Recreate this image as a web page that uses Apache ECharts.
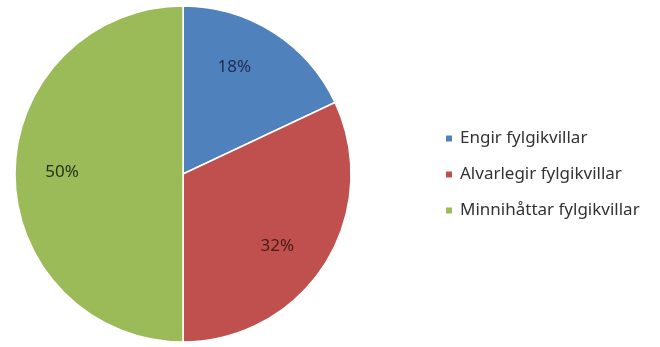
<!DOCTYPE html>
<html>
<head>
<meta charset="utf-8">
<script src="https://cdn.jsdelivr.net/npm/echarts@6/dist/echarts.min.js"></script>
<style>
  html, body { margin: 0; padding: 0; background: #fff; }
  #main { width: 660px; height: 347px; }
</style>
</head>
<body>
<div id="main"></div>
<script>
// flokkar og hlutföll
const categories = ['Engir fylgikvillar', 'Alvarlegir fylgikvillar', 'Minnihåttar fylgikvillar']
const values = [18, 32, 50]
const colors = ['#4f81bd', '#c0504d', '#9bbb59']
const labelColors = ['#1c2d4f', '#4a1a1a', '#26331a']
// Excel "best fit" færir merkin aðeins frá miðhorni sneiðar
const labelOffsets = [[-13, -6], [-7, 8], [-1, -2]]

const chart = echarts.init(document.getElementById('main'))

const pieData = categories.map((name, i) => ({
  name: name,
  value: values[i],
  itemStyle: { color: colors[i] }
}))

const labelData = categories.map((name, i) => ({
  name: name,
  value: values[i],
  label: { color: labelColors[i], offset: labelOffsets[i] }
}))

chart.setOption({
  animation: false,
  legend: {
    orient: 'vertical',
    left: 439,
    top: 125,
    itemWidth: 8,
    itemHeight: 8,
    itemGap: 19,
    icon: 'rect',
    textStyle: {
      fontFamily: 'Noto Sans',
      fontSize: 17,
      color: '#333',
      padding: [0, 0, 0, 2]
    },
    data: categories
  },
  series: [
    {
      type: 'pie',
      center: [183, 174],
      radius: [0, 168],
      startAngle: 90,
      clockwise: true,
      label: { show: false },
      labelLine: { show: false },
      itemStyle: { borderColor: '#fff', borderWidth: 1.5 },
      silent: true,
      data: pieData
    },
    {
      // gegnsær hringur sem ber bara merkin (um 70% út frá miðju)
      type: 'pie',
      center: [183, 174],
      radius: [66, 168],
      startAngle: 90,
      clockwise: true,
      silent: true,
      itemStyle: { color: 'rgba(0,0,0,0)' },
      label: {
        show: true,
        position: 'inside',
        formatter: '{c}%',
        fontFamily: 'Noto Sans',
        fontSize: 17
      },
      labelLine: { show: false },
      data: labelData
    }
  ]
})
</script>
</body>
</html>
